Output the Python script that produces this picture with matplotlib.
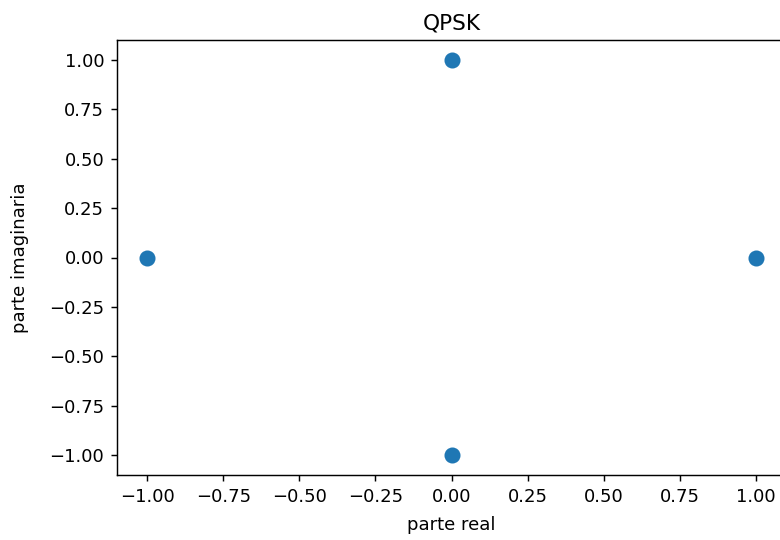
import matplotlib
matplotlib.use("Agg")
import matplotlib.pyplot as plt

# QPSK constellation symbols
real_part = [1.0, 0.0, -1.0, 0.0]
imag_part = [0.0, 1.0, 0.0, -1.0]

dpi = 130
fig = plt.figure(figsize=(780 / dpi, 540 / dpi), dpi=dpi)
ax = fig.add_axes([117 / 780, 65 / 540, (786 - 117) / 780, (475 - 40) / 540])
ax.scatter(real_part, imag_part, s=62, color="#1f77b4")
ax.set_xlim(-1.1, 1.1)
ax.set_ylim(-1.1, 1.1)
ticks = [-1.0, -0.75, -0.5, -0.25, 0.0, 0.25, 0.5, 0.75, 1.0]
ax.set_xticks(ticks)
ax.set_yticks(ticks)
ax.set_xticklabels([f"{t:.2f}".replace("-", "\u2212") for t in ticks])
ax.set_yticklabels([f"{t:.2f}".replace("-", "\u2212") for t in ticks])
ax.set_title("QPSK")
ax.set_xlabel("parte real", labelpad=5.5)
ax.set_ylabel("parte imaginaria", labelpad=11)
fig.savefig("out.png", dpi=dpi)
